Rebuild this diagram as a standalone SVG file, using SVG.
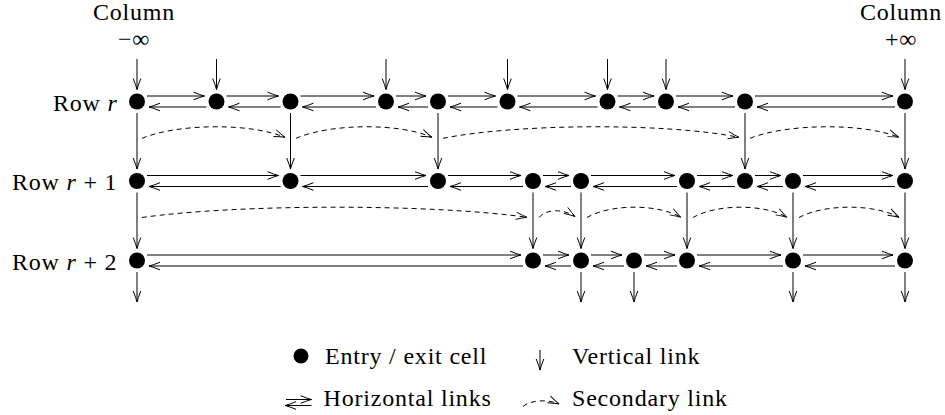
<svg xmlns="http://www.w3.org/2000/svg" width="945" height="415" viewBox="0 0 945 415">
<style>
.t{font-family:'Liberation Serif','DejaVu Serif',serif;font-size:24px;letter-spacing:0.8px;fill:#000}
.m{text-anchor:middle}
.dot{fill:#000}
.ln{stroke:#000;stroke-width:1;fill:none;marker-end:url(#ah)}
.sec{stroke:#000;stroke-width:1;fill:none;stroke-dasharray:5 4;marker-end:url(#ahd)}
</style>
<defs>
<marker id="ah" markerUnits="userSpaceOnUse" orient="auto" refX="0" refY="0" markerWidth="30" markerHeight="30" viewBox="-15 -15 30 30" overflow="visible">
<path d="M-11,-3.8 Q-4,-1 0,0 Q-4,1 -11,3.8" fill="none" stroke="#000" stroke-width="1"/>
</marker>
<marker id="ahd" markerUnits="userSpaceOnUse" orient="auto" refX="0" refY="0" markerWidth="30" markerHeight="30" viewBox="-15 -15 30 30" overflow="visible">
<path d="M-11,-3.6 Q-4,-1 0,0 Q-4,1 -11,3.6" fill="none" stroke="#000" stroke-width="0.9" stroke-dasharray="none"/>
</marker>
</defs>

<g id="labels">
<text class="t m" font-family="Liberation Serif, serif" x="134" y="20">Column</text>
<text class="t m" font-family="Liberation Serif, serif" x="134" y="47">−∞</text>
<text class="t m" font-family="Liberation Serif, serif" x="901" y="20">Column</text>
<text class="t m" font-family="Liberation Serif, serif" x="901" y="47">+∞</text>
<text class="t" font-family="Liberation Serif, serif" x="53" y="110.5">Row <tspan font-style="italic">r</tspan></text>
<text class="t" font-family="Liberation Serif, serif" x="12" y="190">Row <tspan font-style="italic">r</tspan> + 1</text>
<text class="t" font-family="Liberation Serif, serif" x="12" y="269.5">Row <tspan font-style="italic">r</tspan> + 2</text>
</g>

<g id="connectors">
<line class="ln" x1="137" y1="59" x2="137" y2="89.5"/>
<line class="ln" x1="216.5" y1="59" x2="216.5" y2="89.5"/>
<line class="ln" x1="386" y1="59" x2="386" y2="89.5"/>
<line class="ln" x1="507.5" y1="59" x2="507.5" y2="89.5"/>
<line class="ln" x1="607.5" y1="59" x2="607.5" y2="89.5"/>
<line class="ln" x1="666" y1="59" x2="666" y2="89.5"/>
<line class="ln" x1="905" y1="59" x2="905" y2="89.5"/>
<line class="ln" x1="137" y1="113" x2="137" y2="169"/>
<line class="ln" x1="290.5" y1="113" x2="290.5" y2="169"/>
<line class="ln" x1="438" y1="113" x2="438" y2="169"/>
<line class="ln" x1="745" y1="113" x2="745" y2="169"/>
<line class="ln" x1="905" y1="113" x2="905" y2="169"/>
<line class="ln" x1="137" y1="192.5" x2="137" y2="248.5"/>
<line class="ln" x1="533" y1="192.5" x2="533" y2="248.5"/>
<line class="ln" x1="581" y1="192.5" x2="581" y2="248.5"/>
<line class="ln" x1="687" y1="192.5" x2="687" y2="248.5"/>
<line class="ln" x1="793" y1="192.5" x2="793" y2="248.5"/>
<line class="ln" x1="905" y1="192.5" x2="905" y2="248.5"/>
<line class="ln" x1="137" y1="272" x2="137" y2="302"/>
<line class="ln" x1="581" y1="272" x2="581" y2="302"/>
<line class="ln" x1="634" y1="272" x2="634" y2="302"/>
<line class="ln" x1="793" y1="272" x2="793" y2="302"/>
<line class="ln" x1="905" y1="272" x2="905" y2="302"/>

<line class="ln" x1="147" y1="96" x2="204.5" y2="96"/><line class="ln" x1="206.5" y1="107" x2="149" y2="107"/>
<line class="ln" x1="226.5" y1="96" x2="278.5" y2="96"/><line class="ln" x1="280.5" y1="107" x2="228.5" y2="107"/>
<line class="ln" x1="300.5" y1="96" x2="374" y2="96"/><line class="ln" x1="376" y1="107" x2="302.5" y2="107"/>
<line class="ln" x1="396" y1="96" x2="426" y2="96"/><line class="ln" x1="428" y1="107" x2="398" y2="107"/>
<line class="ln" x1="448" y1="96" x2="495.5" y2="96"/><line class="ln" x1="497.5" y1="107" x2="450" y2="107"/>
<line class="ln" x1="517.5" y1="96" x2="595.5" y2="96"/><line class="ln" x1="597.5" y1="107" x2="519.5" y2="107"/>
<line class="ln" x1="617.5" y1="96" x2="654" y2="96"/><line class="ln" x1="656" y1="107" x2="619.5" y2="107"/>
<line class="ln" x1="676" y1="96" x2="733" y2="96"/><line class="ln" x1="735" y1="107" x2="678" y2="107"/>
<line class="ln" x1="755" y1="96" x2="893" y2="96"/><line class="ln" x1="895" y1="107" x2="757" y2="107"/>
<line class="ln" x1="147" y1="175.5" x2="278.5" y2="175.5"/><line class="ln" x1="280.5" y1="186.5" x2="149" y2="186.5"/>
<line class="ln" x1="300.5" y1="175.5" x2="426" y2="175.5"/><line class="ln" x1="428" y1="186.5" x2="302.5" y2="186.5"/>
<line class="ln" x1="448" y1="175.5" x2="521" y2="175.5"/><line class="ln" x1="523" y1="186.5" x2="450" y2="186.5"/>
<line class="ln" x1="543" y1="175.5" x2="569" y2="175.5"/><line class="ln" x1="571" y1="186.5" x2="545" y2="186.5"/>
<line class="ln" x1="591" y1="175.5" x2="675" y2="175.5"/><line class="ln" x1="677" y1="186.5" x2="593" y2="186.5"/>
<line class="ln" x1="697" y1="175.5" x2="733" y2="175.5"/><line class="ln" x1="735" y1="186.5" x2="699" y2="186.5"/>
<line class="ln" x1="755" y1="175.5" x2="781" y2="175.5"/><line class="ln" x1="783" y1="186.5" x2="757" y2="186.5"/>
<line class="ln" x1="803" y1="175.5" x2="893" y2="175.5"/><line class="ln" x1="895" y1="186.5" x2="805" y2="186.5"/>
<line class="ln" x1="147" y1="255" x2="521" y2="255"/><line class="ln" x1="523" y1="266" x2="149" y2="266"/>
<line class="ln" x1="543" y1="255" x2="569" y2="255"/><line class="ln" x1="571" y1="266" x2="545" y2="266"/>
<line class="ln" x1="591" y1="255" x2="622" y2="255"/><line class="ln" x1="624" y1="266" x2="593" y2="266"/>
<line class="ln" x1="644" y1="255" x2="675" y2="255"/><line class="ln" x1="677" y1="266" x2="646" y2="266"/>
<line class="ln" x1="697" y1="255" x2="781" y2="255"/><line class="ln" x1="783" y1="266" x2="699" y2="266"/>
<line class="ln" x1="803" y1="255" x2="893" y2="255"/><line class="ln" x1="895" y1="266" x2="805" y2="266"/>

<path class="sec" d="M142,138.3 C177.75,123.6 249.25,122.6 285,137.3"/>
<path class="sec" d="M296,138.3 C330,123.6 398,122.6 432,137.3"/>
<path class="sec" d="M443,138.3 C517,123.6 665,122.6 739,137.3"/>
<path class="sec" d="M750,138.3 C787.25,123.6 861.75,122.6 899,137.3"/>
<path class="sec" d="M142,217.5 C238,203.9 431,203.7 527,217.3"/>
<path class="sec" d="M539,217.5 C546,209 563,208.5 575,216.5"/>
<path class="sec" d="M587,217.5 C610.5,203.9 657.5,203.7 681,217.3"/>
<path class="sec" d="M693,217.5 C716.5,203.9 763.5,203.7 787,217.3"/>
<path class="sec" d="M799,217.5 C824,203.9 874,203.7 899,217.3"/>
</g>

<g id="row-r">
<g id="r-c1"><circle class="dot" cx="137" cy="101.5" r="8"/></g>
<g id="r-c2"><circle class="dot" cx="216.5" cy="101.5" r="8"/></g>
<g id="r-c3"><circle class="dot" cx="290.5" cy="101.5" r="8"/></g>
<g id="r-c4"><circle class="dot" cx="386" cy="101.5" r="8"/></g>
<g id="r-c5"><circle class="dot" cx="438" cy="101.5" r="8"/></g>
<g id="r-c6"><circle class="dot" cx="507.5" cy="101.5" r="8"/></g>
<g id="r-c7"><circle class="dot" cx="607.5" cy="101.5" r="8"/></g>
<g id="r-c8"><circle class="dot" cx="666" cy="101.5" r="8"/></g>
<g id="r-c9"><circle class="dot" cx="745" cy="101.5" r="8"/></g>
<g id="r-c10"><circle class="dot" cx="905" cy="101.5" r="8"/></g>
</g>
<g id="row-r1">
<g id="r1-c1"><circle class="dot" cx="137" cy="181" r="8"/></g>
<g id="r1-c2"><circle class="dot" cx="290.5" cy="181" r="8"/></g>
<g id="r1-c3"><circle class="dot" cx="438" cy="181" r="8"/></g>
<g id="r1-c4"><circle class="dot" cx="533" cy="181" r="8"/></g>
<g id="r1-c5"><circle class="dot" cx="581" cy="181" r="8"/></g>
<g id="r1-c6"><circle class="dot" cx="687" cy="181" r="8"/></g>
<g id="r1-c7"><circle class="dot" cx="745" cy="181" r="8"/></g>
<g id="r1-c8"><circle class="dot" cx="793" cy="181" r="8"/></g>
<g id="r1-c9"><circle class="dot" cx="905" cy="181" r="8"/></g>
</g>
<g id="row-r2">
<g id="r2-c1"><circle class="dot" cx="137" cy="260.5" r="8"/></g>
<g id="r2-c2"><circle class="dot" cx="533" cy="260.5" r="8"/></g>
<g id="r2-c3"><circle class="dot" cx="581" cy="260.5" r="8"/></g>
<g id="r2-c4"><circle class="dot" cx="634" cy="260.5" r="8"/></g>
<g id="r2-c5"><circle class="dot" cx="687" cy="260.5" r="8"/></g>
<g id="r2-c6"><circle class="dot" cx="793" cy="260.5" r="8"/></g>
<g id="r2-c7"><circle class="dot" cx="905" cy="260.5" r="8"/></g>
</g>

<g id="legend">
<circle class="dot" cx="301" cy="356" r="7.5"/>
<text class="t" font-family="Liberation Serif, serif" x="325" y="364">Entry / exit cell</text>
<line class="ln" x1="540" y1="350" x2="540" y2="370"/>
<text class="t" font-family="Liberation Serif, serif" x="572" y="364">Vertical link</text>
<line class="ln" x1="286" y1="399.5" x2="311.5" y2="399.5"/>
<line class="ln" x1="311.5" y1="405.5" x2="285" y2="405.5"/>
<text class="t" font-family="Liberation Serif, serif" x="323.5" y="405.5">Horizontal links</text>
<path class="sec" d="M523,406.5 C530,400 548,399 559,404"/>
<text class="t" font-family="Liberation Serif, serif" x="572" y="405.5">Secondary link</text>
</g>
</svg>
